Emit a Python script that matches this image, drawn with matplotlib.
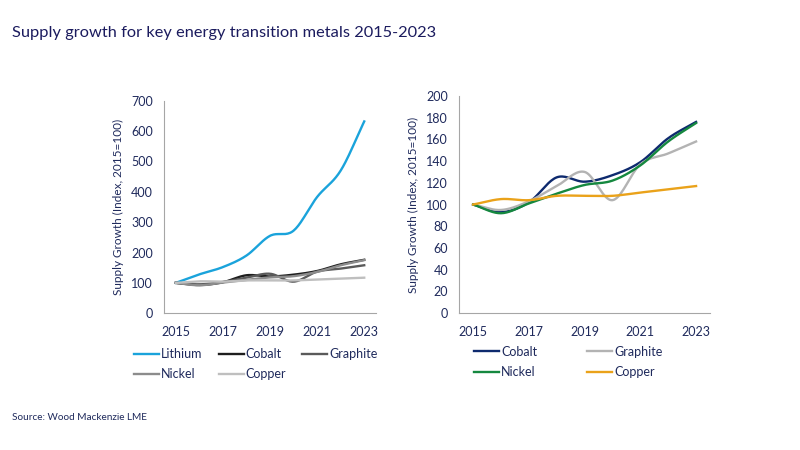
import numpy as np
import matplotlib.pyplot as plt

plt.rcParams['font.family'] = ['Lato', 'DejaVu Sans']

years = [2015, 2016, 2017, 2018, 2019, 2020, 2021, 2022, 2023]
tick_years = [2015, 2017, 2019, 2021, 2023]

lithium = [100, 128, 152, 190, 255, 272, 383, 470, 632]
cobalt = [100, 93, 102, 125, 121, 127, 139, 161, 176]
graphite = [100, 95, 103, 117, 130, 104, 137, 147, 158]
nickel = [100, 92, 101, 110, 118, 122, 136, 158, 175]
copper = [100, 105, 104, 108, 108, 108, 111, 114, 117]

navy = '#1F2A5C'


def smooth(x, y, n=20):
    # catmull-rom style smoothing, like Excel's "smoothed line"
    x = np.asarray(x, float)
    y = np.asarray(y, float)
    m = len(x)
    tx = np.gradient(x)
    ty = np.gradient(y)
    xs, ys = [], []
    t = np.linspace(0, 1, n, endpoint=False)
    h00 = 2*t**3 - 3*t**2 + 1
    h10 = t**3 - 2*t**2 + t
    h01 = -2*t**3 + 3*t**2
    h11 = t**3 - t**2
    for i in range(m - 1):
        xs.append(h00*x[i] + h10*tx[i] + h01*x[i+1] + h11*tx[i+1])
        ys.append(h00*y[i] + h10*ty[i] + h01*y[i+1] + h11*ty[i+1])
    xs.append([x[-1]])
    ys.append([y[-1]])
    return np.concatenate(xs), np.concatenate(ys)


def style(ax, ymax, step):
    ax.set_xlim(2014.5, 2023.5)
    ax.set_ylim(0, ymax)
    ax.set_yticks(np.arange(0, ymax + 1, step))
    ax.set_xticks(tick_years)
    for s in ['top', 'right']:
        ax.spines[s].set_visible(False)
    for s in ['left', 'bottom']:
        ax.spines[s].set_color('#A6A6A6')
        ax.spines[s].set_linewidth(0.8)
    ax.tick_params(length=0, labelsize=9, colors=navy)
    ax.tick_params(axis='x', pad=9)
    ax.tick_params(axis='y', pad=8)
    ax.set_ylabel('Supply Growth (Index, 2015=100)', color=navy, fontsize=8.5, labelpad=5)


def add_legend(ax, order, x, y, colspace):
    handles = {lab: hh for hh, lab in zip(*ax.get_legend_handles_labels())}
    ax.legend([handles[k] for k in order], order, ncol=3 if len(order) > 4 else 2,
              loc='upper left', bbox_to_anchor=(x, y), frameon=False, fontsize=9,
              labelcolor=navy, handlelength=2.0, handletextpad=0.15,
              columnspacing=colspace, borderaxespad=0, borderpad=0, labelspacing=0.65)


fig = plt.figure(figsize=(8, 4.5), dpi=100)
fig.text(0.015, 0.918, 'Supply growth for key energy transition metals 2015-2023',
         color='#1B1B5E', fontsize=11.75)
fig.text(0.015, 0.067, 'Source: Wood Mackenzie LME', color=navy, fontsize=7.2)

ax1 = fig.add_axes([0.205, 0.304, 0.265, 0.472])
left_series = [('Lithium', lithium, '#1AA3DB'),
               ('Cobalt', cobalt, '#1E1E1E'),
               ('Graphite', graphite, '#5A5A5A'),
               ('Nickel', nickel, '#8C8C8C'),
               ('Copper', copper, '#BFBFBF')]
for name, vals, col in left_series:
    sx, sy = smooth(years, vals)
    ax1.plot(sx, sy, color=col, lw=1.7, label=name)
style(ax1, 700, 100)
add_legend(ax1, ['Lithium', 'Nickel', 'Cobalt', 'Copper', 'Graphite'], -0.142, -0.165, 1.3)

ax2 = fig.add_axes([0.574, 0.304, 0.3135, 0.483])
right_series = [('Cobalt', cobalt, '#0E2A6E'),
                ('Graphite', graphite, '#B3B3B3'),
                ('Nickel', nickel, '#15883F'),
                ('Copper', copper, '#EAA21A')]
for name, vals, col in right_series:
    sx, sy = smooth(years, vals)
    ax2.plot(sx, sy, color=col, lw=1.7, label=name)
style(ax2, 200, 20)
add_legend(ax2, ['Cobalt', 'Nickel', 'Graphite', 'Copper'], 0.06, -0.15, 4.0)

fig.savefig('out.png', dpi=100)
